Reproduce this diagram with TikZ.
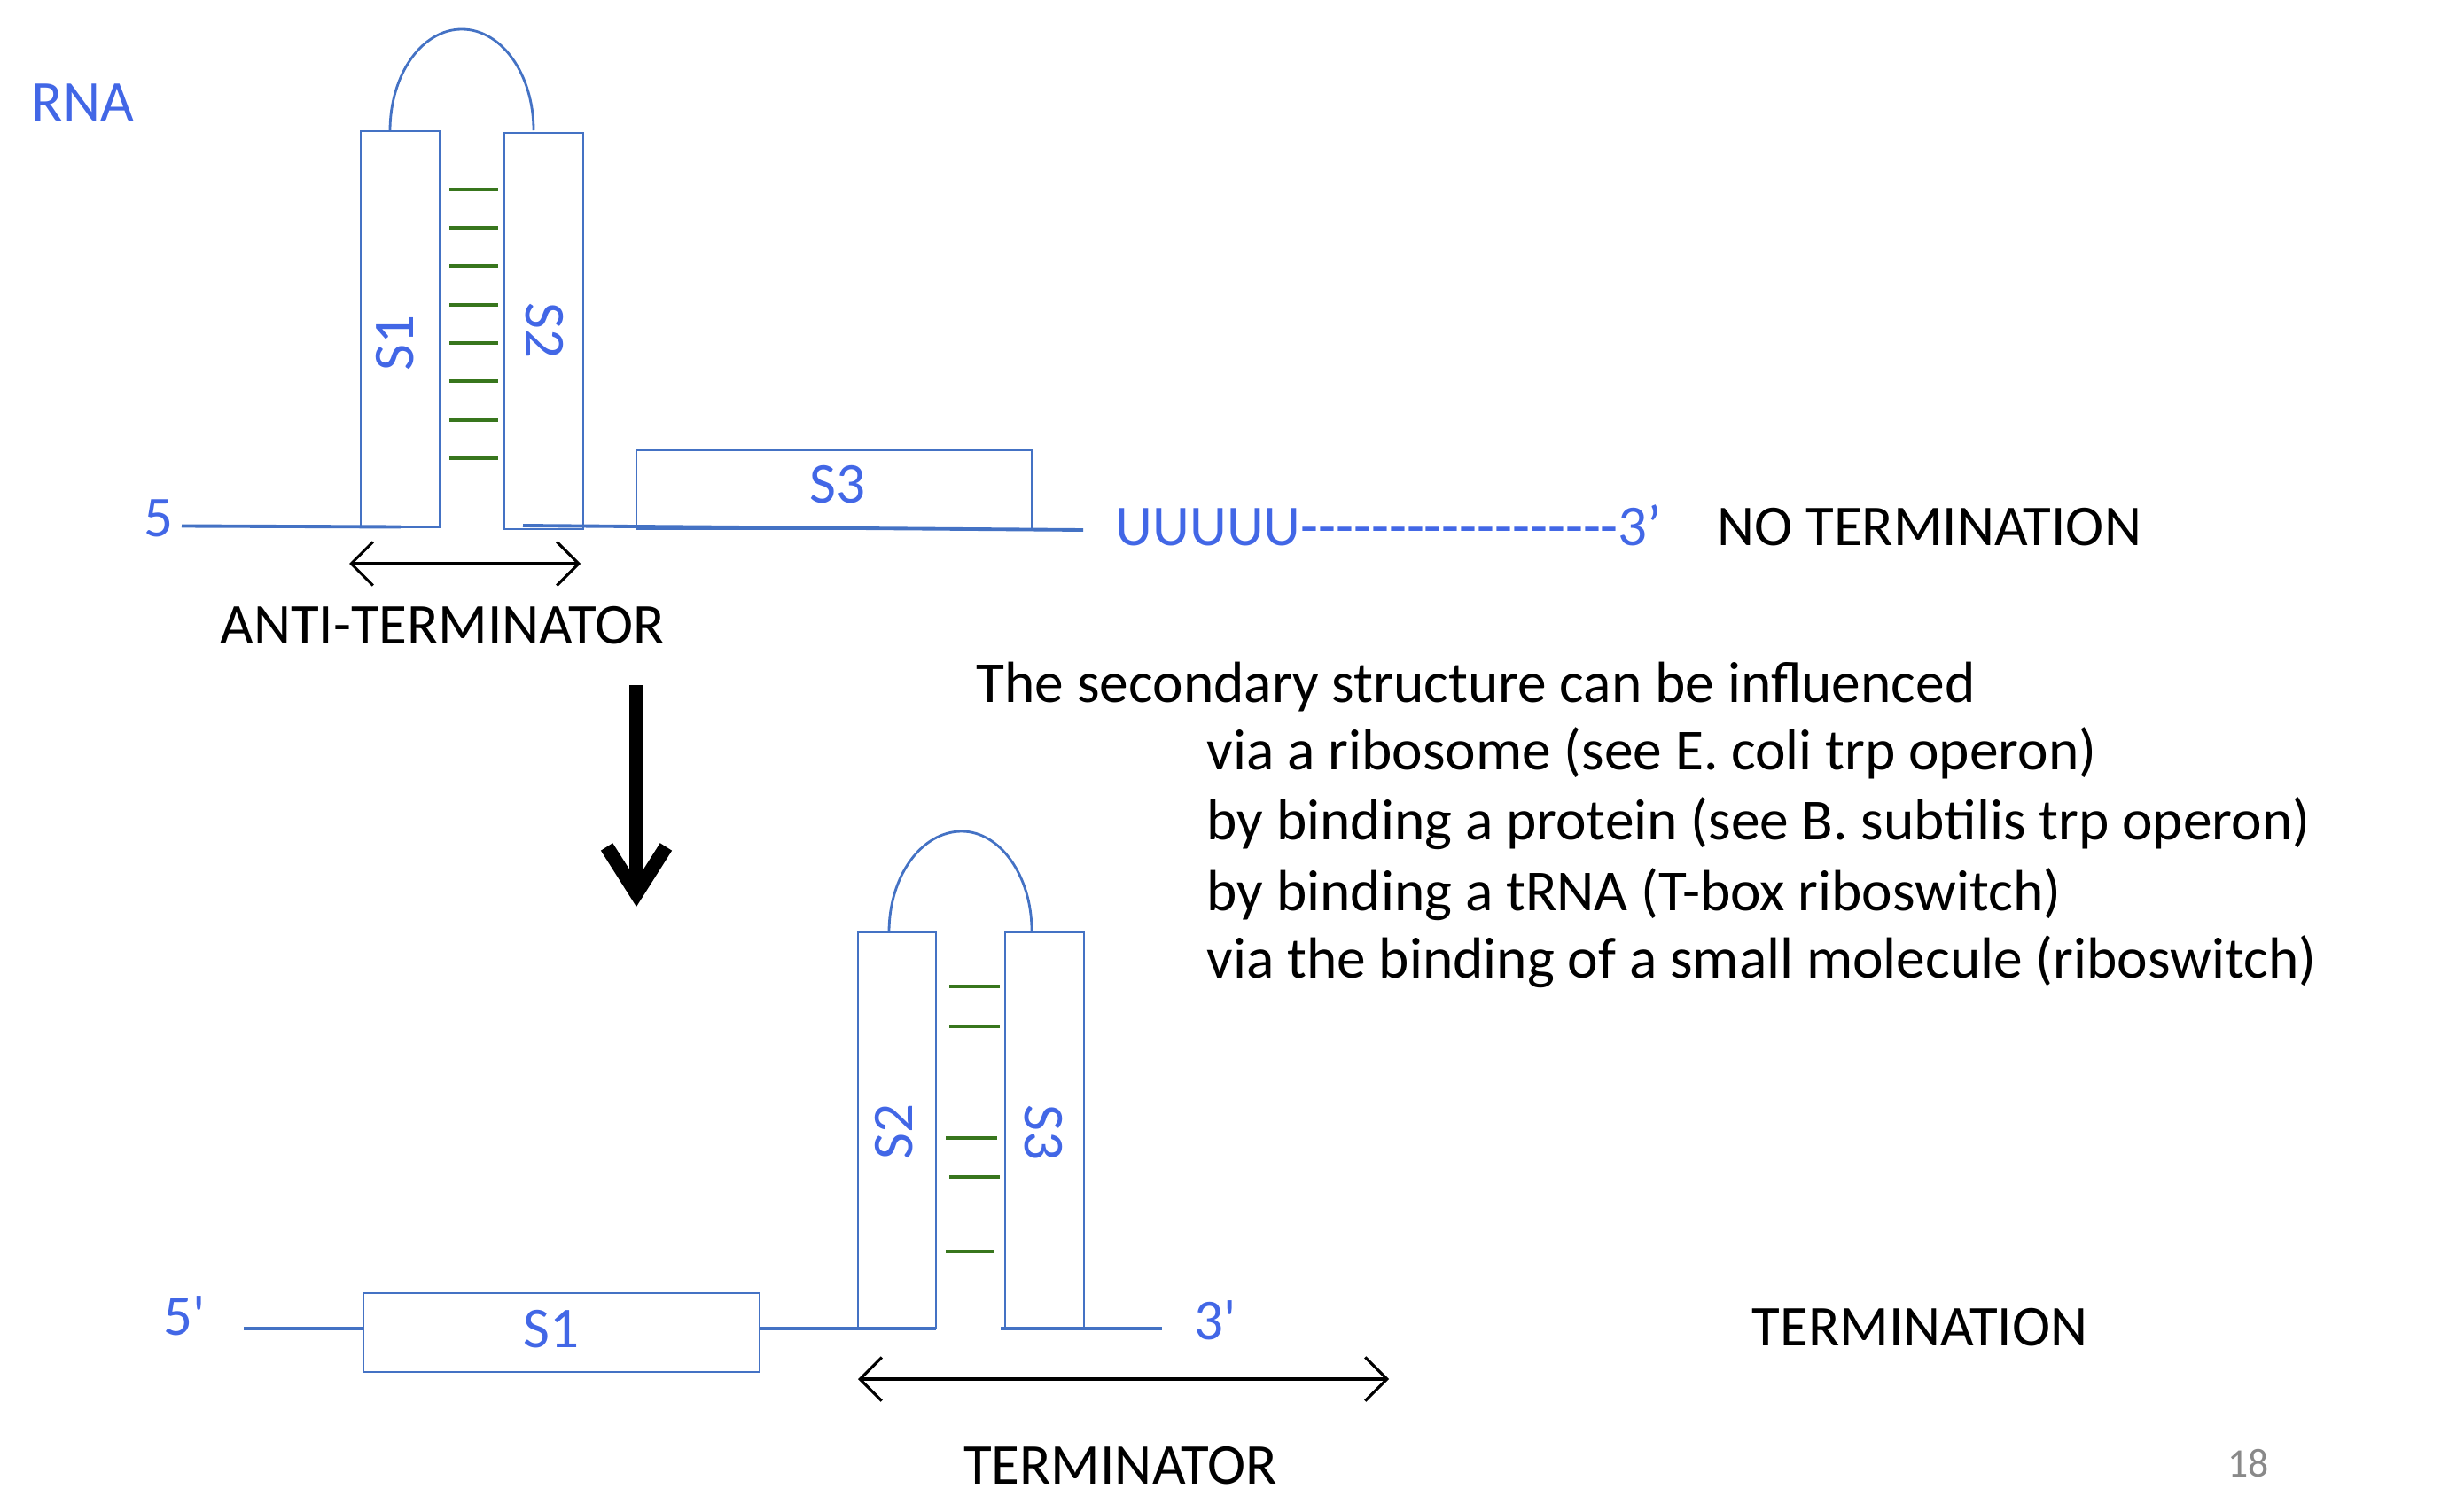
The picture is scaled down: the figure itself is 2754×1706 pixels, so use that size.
\documentclass[tikz,border=0pt]{standalone}
\usepackage{fontspec}
\setmainfont{Carlito}[Ligatures=TeXOff]
\usetikzlibrary{arrows.meta}
\definecolor{txtblue}{RGB}{66,103,230}
\definecolor{lnblue}{RGB}{68,114,196}
\definecolor{bpgreen}{RGB}{56,118,29}
\definecolor{pgray}{RGB}{137,137,137}
\begin{document}
\begin{tikzpicture}[x=0.01cm,y=-0.01cm,
  font=\fontsize{18.5}{22}\selectfont,
  box/.style={draw=lnblue, line width=0.55pt, inner sep=0pt},
  lbl/.style={inner sep=0pt, text height=11.9pt, text depth=0pt, text=txtblue},
  txt/.style={inner sep=0pt, anchor=base west},
  btxt/.style={txt, text=txtblue},
  etxt/.style={txt, font=\fontsize{18.6}{22}\selectfont},
  strand/.style={draw=lnblue, line width=1.1pt},
  loopline/.style={draw=lnblue, line width=0.8pt},
  bp/.style={draw=bpgreen, line width=1.4pt},
  span/.style={draw=black, line width=0.9pt, {Straight Barb[length=7pt,width=14pt]}-{Straight Barb[length=7pt,width=14pt]}},
  bigarrow/.style={draw=black, line width=4.5pt, -{Straight Barb[length=15pt,width=19pt]}},
]
\useasboundingbox (0,0) rectangle (2754,1706);

% ---------- top: anti-terminator ----------
\node[btxt] (rna) at (35,137) {RNA};
\node[box, minimum width=0.89cm, minimum height=4.47cm] (tS1) at (451.5,371.5) {};
\node[box, minimum width=0.89cm, minimum height=4.47cm] (tS2) at (613.5,373.5) {};
\node[box, minimum width=4.46cm, minimum height=0.89cm] (tS3) at (941,552.5) {};
\node[lbl, rotate=90] (tS1l) at (446,387) {S1};
\node[lbl, rotate=-90] (tS2l) at (614,373) {S2};
\node[lbl] (tS3l) at (945,547) {S3};

\coordinate (tl1) at (440,148);
\coordinate (tl2) at (602,147);
\draw[loopline] (tl1) .. controls (440,84) and (476,33) .. (521,33)
                      .. controls (566,33) and (602,84) .. (tl2);

\foreach \y in {214,257,300,344,387,430,474,517}
  \draw[bp] (507,\y) -- (562,\y);

\node[btxt] (t5) at (162,605) {5};
\coordinate (ta) at (205,593.5);
\coordinate (tb) at (452,594.5);
\coordinate (tc) at (590,593);
\coordinate (td) at (1222,598);
\draw[strand] (ta) -- (tb);
\draw[strand] (tc) -- (td);

\node[btxt] (t3) at (1258,615) {UUUUU------------------3’};
\node[txt] (noterm) at (1937,615) {NO TERMINATION};

\coordinate (as1) at (394,636);
\coordinate (as2) at (655,636);
\draw[span] (as1) -- (as2);
\node[inner sep=0pt, anchor=base] (anti) at (499,726) {ANTI-TERMINATOR};

% ---------- big arrow ----------
\coordinate (ba1) at (718,773);
\coordinate (ba2) at (718,1023);
\draw[bigarrow] (ba1) -- (ba2);

% ---------- explanatory text ----------
\node[etxt] (e0) at (1101,792) {The secondary structure can be influenced};
\node[etxt] (e1) at (1361,868) {via a ribosome (see E. coli trp operon)};
\node[etxt] (e2) at (1361,947) {by binding a protein (see B. subtilis trp operon)};
\node[etxt] (e3) at (1361,1027) {by binding a tRNA (T-box riboswitch)};
\node[etxt] (e4) at (1361,1103) {via the binding of a small molecule (riboswitch)};

% ---------- bottom: terminator ----------
\node[box, minimum width=0.88cm, minimum height=4.47cm] (bS2) at (1012,1275.5) {};
\node[box, minimum width=0.89cm, minimum height=4.47cm] (bS3) at (1178.5,1275.5) {};
\node[box, minimum width=4.47cm, minimum height=0.89cm] (bS1) at (633.5,1503.5) {};
\node[lbl, rotate=90] (bS2l) at (1009,1277) {S2};
\node[lbl, rotate=-90] (bS3l) at (1177,1278) {S3};
\node[lbl] (bS1l) at (622,1500) {S1};

\coordinate (bl1) at (1003,1052);
\coordinate (bl2) at (1164,1050);
\draw[loopline] (bl1) .. controls (1003,988) and (1040,938) .. (1085,938)
                      .. controls (1128,938) and (1164,988) .. (bl2);

\foreach \y in {1113,1158,1328}
  \draw[bp] (1071,\y) -- (1128,\y);
\draw[bp] (1067,1284) -- (1125,1284);
\draw[bp] (1067,1412) -- (1122,1412);

\node[btxt] (b5) at (184,1506) {5'};
\node[btxt] (b3) at (1347,1511) {3'};
\coordinate (ba) at (275,1499);
\coordinate (bb) at (410,1499);
\coordinate (bc) at (857,1499);
\coordinate (bd) at (1056,1499);
\coordinate (be) at (1129,1499);
\coordinate (bf) at (1311,1499);
\draw[strand] (ba) -- (bb);
\draw[strand] (bc) -- (bd);
\draw[strand] (be) -- (bf);

\coordinate (bs1) at (968,1556);
\coordinate (bs2) at (1567,1556);
\draw[span] (bs1) -- (bs2);
\node[inner sep=0pt, anchor=base] (term) at (1264,1674) {TERMINATOR};
\node[txt] (termn) at (1976,1518) {TERMINATION};

\node[txt, text=pgray, font=\fontsize{13}{15}\selectfont] (pg) at (2513,1666) {18};
\end{tikzpicture}
\end{document}
